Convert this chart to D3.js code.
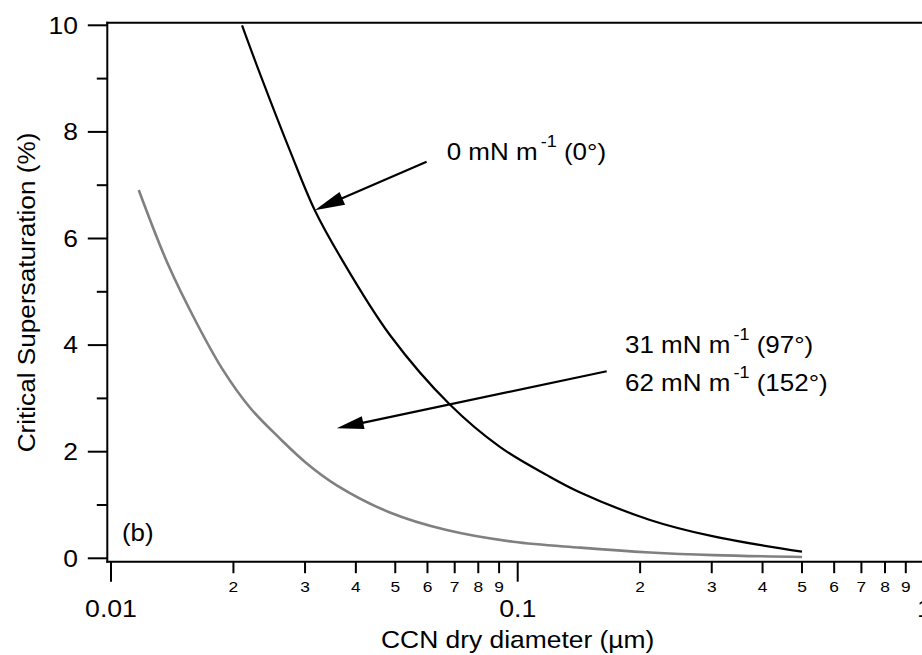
<!DOCTYPE html>
<html>
<head>
<meta charset="utf-8">
<script src="https://cdn.jsdelivr.net/npm/d3@7"></script>
<style>
  html, body { margin: 0; padding: 0; background: #fff; }
  svg { display: block; }
  text { font-family: "Liberation Sans", Arial, Helvetica, sans-serif; fill: #000; }
</style>
</head>
<body>
<svg id="chart" width="922" height="655"></svg>
<script>
// ---- data ----
// 0 mN m-1 (0°) curve: dry diameter (µm) and critical supersaturation (%)
const blackDiam = [0.0210, 0.0233, 0.0276, 0.0317, 0.0366, 0.0485, 0.0682, 0.0904, 0.118, 0.142, 0.2115, 0.303, 0.500];
const blackSc   = [10.0,   9.07,   7.63,   6.53,   5.66,   4.19,   2.88,   2.09,   1.56,  1.24,  0.72,   0.41,  0.124];
// 31 / 62 mN m-1 curve (grey)
const greyDiam = [0.0117, 0.0138, 0.01625, 0.01886, 0.0220, 0.0260, 0.0303, 0.0359, 0.0485, 0.0669, 0.0975, 0.1423, 0.2115, 0.303, 0.500];
const greySc   = [6.91,   5.52,   4.41,    3.53,    2.82,   2.25,   1.78,   1.37,   0.86,   0.53,   0.31,   0.20,   0.11,   0.06,  0.025];

const xMajorTicks  = [0.01, 0.1, 1];
const xMajorLabels = ["0.01", "0.1", "1"];
const xMinorTicks  = [0.02,0.03,0.04,0.05,0.06,0.07,0.08,0.09,0.2,0.3,0.4,0.5,0.6,0.7,0.8,0.9];
const xMinorLabels = ["2","3","4","5","6","7","8","9","2","3","4","5","6","7","8","9"];
const yMajorTicks  = [0, 2, 4, 6, 8, 10];
const yMinorTicks  = [1, 3, 5, 7, 9];

const xTitleParts = ["CCN dry diameter (", "µ", "m)"];
const yTitle = "Critical Supersaturation (%)";
const panelLabel = "(b)";
// annotations: positions in data units [diameter, Sc]
const ann1Text = ["0 mN m", "-1", " (0°)"];
const ann1Pos  = [0.0669, 7.47];
const ann1Tail = [0.0597, 7.44];
const ann1Tip  = [0.0317, 6.53];
const ann2Text1 = ["31 mN m", "-1", " (97°)"];
const ann2Text2 = ["62 mN m", "-1", " (152°)"];
const ann2Pos1  = [0.1836, 3.85];
const ann2Pos2  = [0.1836, 3.14];
const ann2Tail  = [0.1655, 3.51];
const ann2Tip   = [0.0359, 2.44];

// ---- layout ----
const svg = d3.select("#chart");
const x = d3.scaleLog().domain([0.01, 1]).range([111, 924.4]);
const y = d3.scaleLinear().domain([0, 10]).range([558.3, 25.3]);
const axisX = 107.3, axisY = 561.7, topY = 22.7;

const g = svg.append("g");

function addText(px, py, size, sx, anchor, rotate) {
  const grp = g.append("g").attr("transform", `translate(${px},${py})${rotate ? " rotate(" + rotate + ")" : ""} scale(${sx},1)`);
  return grp.append("text").attr("x", 0).attr("y", 0).attr("font-size", size).attr("text-anchor", anchor || "start");
}

// frame lines
g.append("line").attr("x1", axisX).attr("x2", axisX).attr("y1", topY - 1).attr("y2", axisY + 1)
  .attr("stroke", "#000").attr("stroke-width", 2);
g.append("line").attr("x1", axisX - 1).attr("x2", 930).attr("y1", topY).attr("y2", topY)
  .attr("stroke", "#000").attr("stroke-width", 2);
g.append("line").attr("x1", axisX - 1).attr("x2", 930).attr("y1", axisY).attr("y2", axisY)
  .attr("stroke", "#000").attr("stroke-width", 2);

// y ticks
g.selectAll(".ymaj").data(yMajorTicks).join("line")
  .attr("x1", axisX - 19.5).attr("x2", axisX).attr("y1", d => y(d)).attr("y2", d => y(d))
  .attr("stroke", "#000").attr("stroke-width", 2);
g.selectAll(".ymin").data(yMinorTicks).join("line")
  .attr("x1", axisX - 10.5).attr("x2", axisX).attr("y1", d => y(d)).attr("y2", d => y(d))
  .attr("stroke", "#000").attr("stroke-width", 2);
yMajorTicks.forEach(v => {
  addText(78, y(v) + 8.2, 23, 1.15, "end").text(v);
});

// x ticks
g.selectAll(".xmaj").data(xMajorTicks).join("line")
  .attr("x1", d => x(d)).attr("x2", d => x(d)).attr("y1", axisY).attr("y2", axisY + 20)
  .attr("stroke", "#000").attr("stroke-width", 2);
g.selectAll(".xmin").data(xMinorTicks).join("line")
  .attr("x1", d => x(d)).attr("x2", d => x(d)).attr("y1", axisY).attr("y2", axisY + 11.5)
  .attr("stroke", "#000").attr("stroke-width", 2);
xMinorTicks.forEach((v, i) => {
  addText(x(v), 591.7, 15.5, 1.12, "middle").text(xMinorLabels[i]);
});
xMajorTicks.forEach((v, i) => {
  addText(x(v), 616.5, 23, 1.16, "middle").text(xMajorLabels[i]);
});

// axis titles
const xt = addText(x(0.1), 648, 24, 1.1, "middle");
xTitleParts.forEach(p => xt.append("tspan").text(p));
addText(35, 292.5, 24, 1, "middle", -90).text(yTitle)
  .attr("transform", "scale(1.09,1)");

// curves
const line = d3.line().x(d => x(d[0])).y(d => y(d[1])).curve(d3.curveCatmullRom.alpha(0.5));
g.append("path").datum(greyDiam.map((d, i) => [d, greySc[i]]))
  .attr("d", line).attr("fill", "none").attr("stroke", "#808080").attr("stroke-width", 2.6);
g.append("path").datum(blackDiam.map((d, i) => [d, blackSc[i]]))
  .attr("d", line).attr("fill", "none").attr("stroke", "#000").attr("stroke-width", 2.2);

// panel label
addText(x(0.01064), y(0.32), 24, 1.08, "start").text(panelLabel);

// arrows
function arrow(tail, tip, headLen, headHalf) {
  const x0 = x(tail[0]), y0 = y(tail[1]), x1 = x(tip[0]), y1 = y(tip[1]);
  const dx = x1 - x0, dy = y1 - y0, L = Math.hypot(dx, dy);
  const ux = dx / L, uy = dy / L;
  const bx = x1 - ux * headLen, by = y1 - uy * headLen;
  g.append("line").attr("x1", x0).attr("y1", y0).attr("x2", bx + ux * 2).attr("y2", by + uy * 2)
    .attr("stroke", "#000").attr("stroke-width", 2.2);
  g.append("path")
    .attr("d", `M${x1},${y1}L${bx - uy * headHalf},${by + ux * headHalf}L${bx + uy * headHalf},${by - ux * headHalf}Z`)
    .attr("fill", "#000");
}
arrow(ann1Tail, ann1Tip, 30, 7);
arrow(ann2Tail, ann2Tip, 27, 6.5);

// annotation labels
function label(parts, pos) {
  const t = addText(x(pos[0]), y(pos[1]), 24.5, 1.06, "start");
  t.append("tspan").text(parts[0]);
  t.append("tspan").attr("font-size", 17).attr("dy", -13).attr("dx", 3).text(parts[1]);
  t.append("tspan").attr("dy", 13).text(parts[2]);
}
label(ann1Text, ann1Pos);
label(ann2Text1, ann2Pos1);
label(ann2Text2, ann2Pos2);
</script>
</body>
</html>
